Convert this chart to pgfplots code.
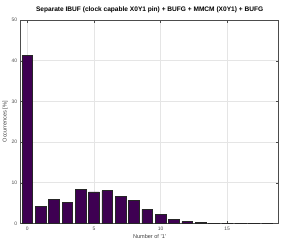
\documentclass[border=0pt]{standalone}
\usepackage{pgfplots}
\pgfplotsset{compat=1.18}
\usepackage{fontspec}
\setmainfont{Liberation Sans}
\definecolor{barfill}{RGB}{62,0,82}
\begin{document}
\begin{tikzpicture}[x=1bp,y=1bp]
\useasboundingbox (0,0) rectangle (284,247);
\begin{axis}[
  at={(20.7bp,23.7bp)}, anchor=south west,
  scale only axis, width=257.8bp, height=203.3bp,
  xmin=-0.5, xmax=18.85, ymin=0, ymax=50,
  xtick={0,5,10,15}, ytick={0,10,20,30,40,50},
  grid=major, major grid style={gray!20, line width=0.6pt},
  tick align=inside, major tick length=2.5bp,
  axis line style={black!70, line width=0.8pt},
  tick style={black!70},
  ticklabel style={font=\fontsize{5}{6}\selectfont, text=black!70},
  /pgf/number format/assume math mode=true,
  title={\fontsize{6.6}{7}\selectfont\bfseries Separate IBUF (clock capable X0Y1 pin) + BUFG + MMCM (X0Y1) + BUFG},
  title style={yshift=-2bp},
  xlabel={Number of '1'}, ylabel={Occurrences [\%]},
  label style={font=\fontsize{5.6}{6}\selectfont, text=black!75},
  xlabel style={yshift=3bp}, ylabel style={yshift=-3bp},
]
\addplot[ybar, bar width=0.8, fill=barfill, draw=black!85, line width=0.7pt] coordinates {
(0,41.3) (1,4.1) (2,5.9) (3,5.1) (4,8.3) (5,7.7) (6,8.0) (7,6.7) (8,5.7) (9,3.4)
(10,2.2) (11,0.9) (12,0.4) (13,0.15) (14,0.05) (15,0.03) (16,0.01) (17,0.01) (18,0.01)
};
\end{axis}
\end{tikzpicture}
\end{document}
